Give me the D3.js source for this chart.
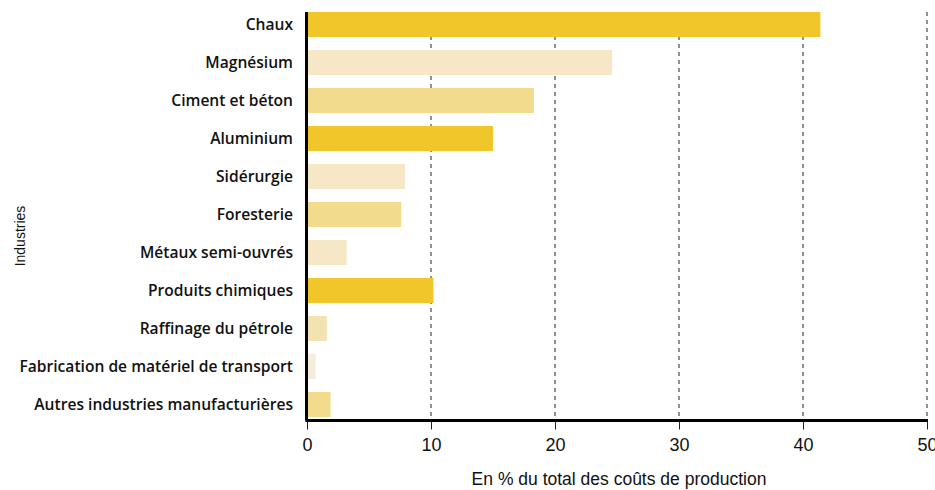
<!DOCTYPE html>
<html>
<head>
<meta charset="utf-8">
<script src="https://cdn.jsdelivr.net/npm/d3@7"></script>
<style>
  body { margin: 0; background: #fff; }
  .cat-label { font-family: "Open Sans", Lato, sans-serif; font-weight: 600; font-size: 15.6px; fill: #111; }
  .tick-label { font-family: "Liberation Sans", Arial, sans-serif; font-size: 18px; fill: #111; }
  .axis-title { font-family: "Liberation Sans", Arial, sans-serif; font-size: 17.5px; fill: #111; }
  .y-title { font-family: "Liberation Sans", Arial, sans-serif; font-size: 14px; fill: #111; }
</style>
</head>
<body>
<svg id="chart" width="935" height="490"></svg>
<script>
// industries, top to bottom
const industries = [
  "Chaux", "Magnésium", "Ciment et béton", "Aluminium", "Sidérurgie", "Foresterie",
  "Métaux semi-ouvrés", "Produits chimiques", "Raffinage du pétrole",
  "Fabrication de matériel de transport", "Autres industries manufacturières"
];
// share of total production costs (%)
const values = [41.4, 24.6, 18.3, 15.0, 7.9, 7.6, 3.2, 10.2, 1.6, 0.7, 1.9];
// shade group of each bar
const shades = ["dark", "light", "mid", "dark", "light", "mid", "light", "dark", "pale", "faint", "mid"];
const xTicks = [0, 10, 20, 30, 40, 50];

const data = industries.map((name, i) => ({ name: name, value: values[i], shade: shades[i] }));

const svg = d3.select("#chart");
const axisY = 420.5;

const x = d3.scaleLinear()
  .domain([0, 50])
  .range([307, 927]);

const y = d3.scaleBand()
  .domain(industries)
  .range([5.5, 423.5])
  .paddingInner(0.342)
  .paddingOuter(0.171);

const color = d3.scaleOrdinal()
  .domain(["dark", "mid", "pale", "light", "faint"])
  .range(["#F0C62B", "#F2DB8C", "#F4E3B2", "#F6E8C6", "#F5EDDC"]);

// dashed gridlines
svg.append("g")
  .selectAll("line")
  .data(xTicks.slice(1))
  .enter()
  .append("line")
  .attr("x1", d => x(d))
  .attr("x2", d => x(d))
  .attr("y1", y(industries[0]))
  .attr("y2", axisY)
  .attr("stroke", "#222")
  .attr("stroke-width", 1)
  .attr("stroke-dasharray", "4,4");

// bars
svg.append("g")
  .selectAll("rect")
  .data(data)
  .enter()
  .append("rect")
  .attr("x", x(0))
  .attr("y", d => y(d.name))
  .attr("width", d => x(d.value) - x(0))
  .attr("height", y.bandwidth())
  .attr("fill", d => color(d.shade));

// category labels
svg.append("g")
  .selectAll("text")
  .data(data)
  .enter()
  .append("text")
  .attr("class", "cat-label")
  .attr("x", 293)
  .attr("y", d => y(d.name) + y.bandwidth() / 2)
  .attr("dy", "0.35em")
  .attr("text-anchor", "end")
  .text(d => d.name);

// x axis
const xAxis = svg.append("g")
  .attr("transform", `translate(0, ${axisY})`)
  .call(d3.axisBottom(x).tickValues(xTicks).tickSize(9).tickPadding(9));
xAxis.select(".domain").remove();
xAxis.selectAll(".tick line").attr("stroke", "#222").attr("stroke-width", 1);
xAxis.selectAll(".tick text").attr("class", "tick-label").attr("font-size", null).attr("font-family", null);

svg.append("line")
  .attr("x1", x(0) - 1.5)
  .attr("x2", x(50) + 1)
  .attr("y1", axisY)
  .attr("y2", axisY)
  .attr("stroke", "#000")
  .attr("stroke-width", 3);

// y axis line
svg.append("line")
  .attr("x1", x(0) - 0.5)
  .attr("x2", x(0) - 0.5)
  .attr("y1", y(industries[0]))
  .attr("y2", axisY)
  .attr("stroke", "#000")
  .attr("stroke-width", 3);

// axis titles
svg.append("text")
  .attr("class", "axis-title")
  .attr("x", 619)
  .attr("y", 485)
  .attr("text-anchor", "middle")
  .text("En % du total des coûts de production");

svg.append("text")
  .attr("class", "y-title")
  .attr("transform", "translate(25, 236) rotate(-90)")
  .attr("text-anchor", "middle")
  .text("Industries");
</script>
</body>
</html>
